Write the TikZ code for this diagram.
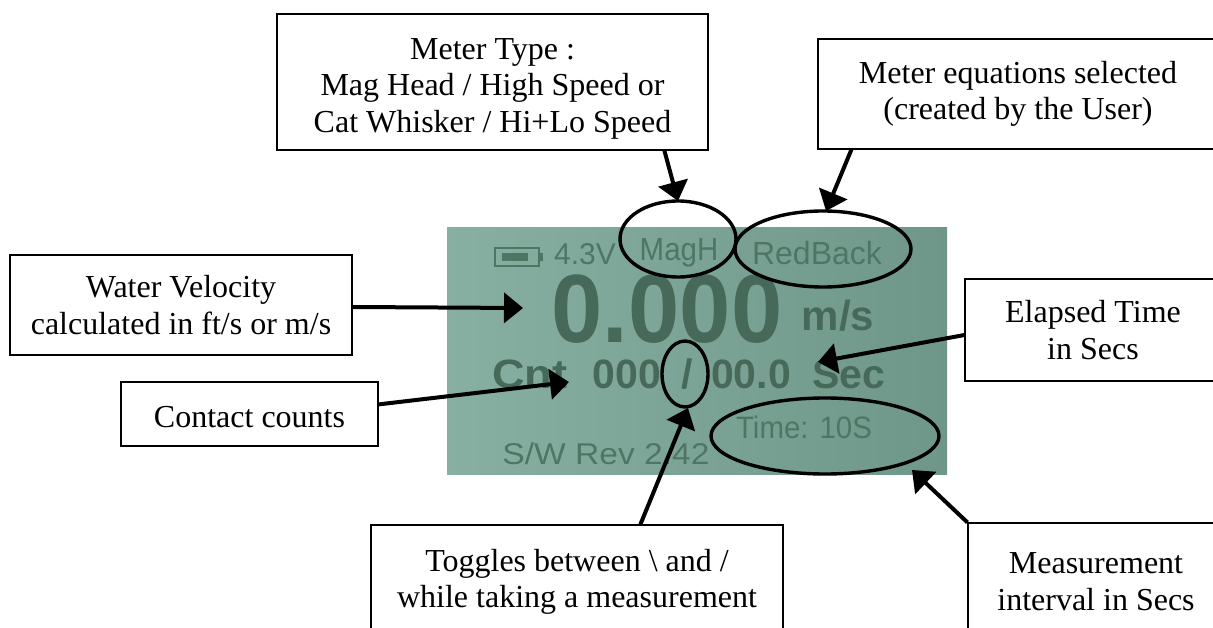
\documentclass[tikz,border=0pt]{standalone}
\usepackage{fontspec}
\setmainfont{Liberation Serif}
\newfontfamily\lcdfont{Liberation Sans}
\usetikzlibrary{arrows.meta,shapes.geometric,positioning}
\definecolor{lcdtl}{HTML}{88B0A2}
\definecolor{lcdr}{HTML}{6F9789}
\definecolor{lcdink}{HTML}{47695A}
\definecolor{lcdfaint}{HTML}{4F7565}
\tikzset{
 x=1pt,y=-1pt,
 callout/.style={draw=black,line width=1.2pt,fill=white,align=center,inner sep=0pt,minimum width=#1,
   font=\fontsize{32}{36.5}\selectfont},
 ring/.style={draw=black,line width=3.4pt,ellipse,inner sep=0pt,minimum width=#1},
 pointer/.style={draw=black,line width=4pt,-{Triangle[length=19pt,width=30pt]}},
 lcdbig/.style={font=\lcdfont\bfseries\fontsize{#1}{#1}\selectfont,text=lcdink,inner sep=0pt,anchor=center},
 lcdsmall/.style={font=\lcdfont\fontsize{#1}{#1}\selectfont,text=lcdfaint,inner sep=0pt,anchor=center},
}
\begin{document}
\begin{tikzpicture}
\useasboundingbox (0,0) rectangle (1213,628);
\fill[white] (0,0) rectangle (1213,628);
\shade[left color=lcdtl,right color=lcdr] (447,228) rectangle (947,474);
% LCD text
\node[draw=lcdfaint,line width=2.5pt,minimum width=44pt,minimum height=18pt,inner sep=0pt] (bat) at (517,257) {};
\fill[lcdfaint] (502,253) rectangle (528,261);
\fill[lcdfaint] (bat.east)++(0,-4) rectangle ++(3,8);
\node[lcdsmall=30] (volt) at (585,254) {4.3V};
\node[lcdsmall=32,xscale=.92] (magh) at (679,253) {MagH};
\node[lcdsmall=32] (redback) at (817,253) {RedBack};
\node[lcdbig=97,xscale=.95] (zero) at (667,309) {0.000};
\node[lcdbig=42] (ms) at (838,316) {m/s};
\node[lcdbig=41,xscale=1.1] (cnt) at (530,374) {Cnt};
\node[lcdbig=41] (ooo) at (627,374) {000};
\node[lcdbig=41] (slash) at (687,374) {/};
\node[lcdbig=41] (oot) at (751,374) {00.0};
\node[lcdbig=41] (sec) at (849,374) {Sec};
\node[lcdsmall=31,xscale=.95] (time) at (804,427) {Time: 10S};
\node[lcdsmall=30,xscale=1.12] (rev) at (606,454) {S/W Rev 2.42};
% rings
\node[ring=116pt,minimum height=76pt] (rmag) at (678,239) {};
\node[ring=176pt,minimum height=76pt] (rred) at (823,249) {};
\node[ring=46pt,minimum height=66pt] (rslash) at (685,374) {};
\node[ring=228pt,minimum height=76pt] (rtime) at (825,436) {};
% callouts
\node[callout=431pt,minimum height=136pt] (mt) at (492.5,82) {\rule{0pt}{34pt}Meter Type :\\Mag Head / High Speed or\\Cat Whisker / Hi+Lo Speed};
\node[callout=400pt,minimum height=110pt] (eq) at (1018,94) {Meter equations selected\\(created by the User)};
\node[callout=342pt,minimum height=100pt] (wv) at (181,305) {Water Velocity\\calculated in ft/s or m/s};
\node[callout=257pt,minimum height=64pt] (cc) at (249.5,414) {\rule{0pt}{28pt}Contact counts};
\node[callout=256pt,minimum height=102pt] (et) at (1093,330) {Elapsed Time\\in Secs};
\node[callout=412pt,minimum height=108pt] (tg) at (577,579) {\rule{0pt}{28pt}Toggles between \textbackslash{} and /\\while taking a measurement};
\node[callout=256pt,minimum height=112pt] (mi) at (1096,579) {\rule{0pt}{26pt}Measurement\\interval in Secs};
% arrow tips
\coordinate (tipmt) at (678,201);
\coordinate (tipeq) at (826,211);
\coordinate (tipwv) at (523,308);
\coordinate (tipcc) at (569,382);
\coordinate (tipet) at (818,362);
\coordinate (tiptg) at (688,408);
\coordinate (tipmi) at (912,470);
\draw[pointer] (mt.south west)++(388,0) -- (tipmt);
\draw[pointer] (eq.south west)++(34,0) -- (tipeq);
\draw[pointer] (wv.east)++(0,2) -- (tipwv);
\draw[pointer] (cc.north east)++(0,23) -- (tipcc);
\draw[pointer] (et.west)++(0,5) -- (tipet);
\draw[pointer] (tg.north west)++(270,0) -- (tiptg);
\draw[pointer] (mi.north west) -- (tipmi);
\end{tikzpicture}
\end{document}
